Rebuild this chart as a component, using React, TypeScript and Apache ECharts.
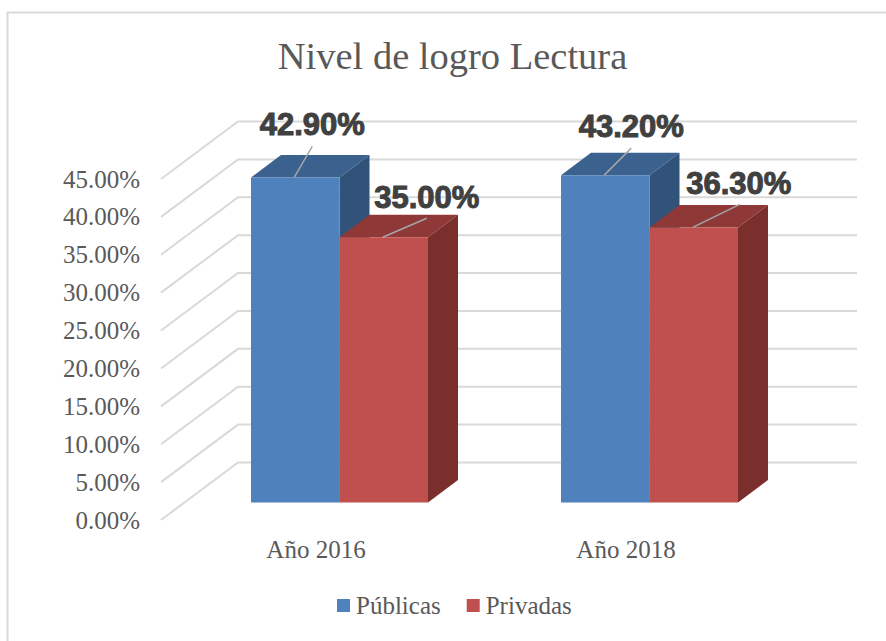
import React, { useEffect, useRef } from "react";
import * as echarts from "echarts";

const categories = ["Año 2016", "Año 2018"];
const yTicks = [0, 5, 10, 15, 20, 25, 30, 35, 40, 45];
const publicas = [42.9, 43.2];
const privadas = [35.0, 36.3];

const serif = "'Liberation Serif', serif";
const TEXT = "#595959";
const BAR_W = 88.5;
const BAR_DX = 23.5;
const BAR_DY = 17.5;
const D3_X = 30;
const D3_Y = 22.5;
const WALL_X = 77;
const WALL_Y = 57.5;

// label placement relative to the bar's front top-centre: [leaderStartDx, leaderEndDx, leaderEndDy, labelDx, labelDy]
const pubLabelPos = [
  [-1, 17, -31, 17, -53],
  [-1, 26, -27, 26, -49],
];
const privLabelPos = [
  [-1, 43, -19, 43, -40],
  [-1, 46, -23, 45, -44],
];

function makeBars(name: string, values: number[], side: -1 | 0, colors: string[], pos: number[][]) {
  return {
    type: "custom",
    name,
    itemStyle: { color: colors[0] },
    data: values.map((v, i) => [i, v]),
    z: 5,
    renderItem: (_p: any, api: any) => {
      const i = api.value(0);
      const v = api.value(1);
      const top = api.coord([i, v]);
      const base = api.coord([i, 0]);
      const x0 = top[0] + BAR_DX + (side === -1 ? -BAR_W : 0);
      const x1 = x0 + BAR_W;
      const yT = top[1] - BAR_DY;
      const yB = base[1] - BAR_DY;
      const cx = (x0 + x1) / 2;
      const [ls, lx, ly, tx, ty] = pos[i];
      return {
        type: "group",
        children: [
          { type: "polygon", shape: { points: [[x0, yT], [x0 + D3_X, yT - D3_Y], [x1 + D3_X, yT - D3_Y], [x1, yT]] }, style: { fill: colors[1] } },
          { type: "polygon", shape: { points: [[x1, yT], [x1 + D3_X, yT - D3_Y], [x1 + D3_X, yB - D3_Y], [x1, yB]] }, style: { fill: colors[2] } },
          { type: "rect", shape: { x: x0, y: yT, width: BAR_W, height: yB - yT }, style: { fill: colors[0] } },
          { type: "line", shape: { x1: cx + ls, y1: yT, x2: cx + lx, y2: yT + ly }, style: { stroke: "#a6a6a6", lineWidth: 1.5 } },
          {
            type: "text",
            x: cx + tx,
            y: yT + ty,
            style: {
              text: v.toFixed(2) + "%",
              font: "bold 31px 'Liberation Sans', sans-serif",
              fill: "#404040",
              stroke: "#404040",
              lineWidth: 1,
              align: "center",
              verticalAlign: "middle",
            },
          },
        ],
      };
    },
  };
}

export default function App() {
  const ref = useRef<HTMLDivElement>(null);
  useEffect(() => {
    document.body.style.margin = "0";
    const chart = echarts.init(ref.current!, null, { renderer: "svg" });
    chart.setOption({
      animation: false,
      backgroundColor: "#ffffff",
      title: {
        text: "Nivel de logro Lectura",
        left: 447.5,
        top: 31,
        textAlign: "center",
        textStyle: { fontFamily: serif, fontSize: 38.5, fontWeight: "normal", color: TEXT },
      },
      legend: {
        data: ["Públicas", "Privadas"],
        left: 337,
        top: 593,
        padding: 0,
        icon: "rect",
        itemWidth: 13,
        itemHeight: 13,
        itemGap: 26,
        textStyle: { fontFamily: serif, fontSize: 25, color: TEXT, padding: [0, 0, 0, 1] },
      },
      grid: { left: 161, top: 179, width: 620, height: 341 },
      xAxis: {
        type: "category",
        data: categories,
        axisLine: { show: false },
        axisTick: { show: false },
        axisLabel: { fontFamily: serif, fontSize: 25, color: TEXT, margin: 17 },
      },
      yAxis: {
        type: "value",
        min: 0,
        max: 45,
        interval: 5,
        splitLine: { show: false },
        axisLine: { show: false },
        axisTick: { show: false },
        axisLabel: {
          fontFamily: serif,
          fontSize: 25,
          color: TEXT,
          margin: 21,
          verticalAlign: "middle",
          padding: [0, 0, 2, 0],
          formatter: (v: number) => v.toFixed(2) + "%",
        },
      },
      graphic: [
        { type: "polyline", shape: { points: [[7.5, 641], [7.5, 12.5], [886, 12.5]] }, style: { stroke: "#d9d9d9", lineWidth: 2, fill: "none" }, silent: true },
      ],
      series: [
        {
          type: "custom",
          name: "walls",
          silent: true,
          z: 1,
          data: yTicks.map((v) => [0, v]),
          renderItem: (p: any, api: any) => {
            const y = api.coord([0, api.value(1)])[1];
            const cs = p.coordSys;
            return {
              type: "polyline",
              shape: { points: [[cs.x, y], [cs.x + WALL_X, y - WALL_Y], [cs.x + cs.width + WALL_X - 1, y - WALL_Y]] },
              style: { stroke: "#d9d9d9", lineWidth: 2, fill: "none" },
            };
          },
        },
        makeBars("Públicas", publicas, -1, ["#4f81bd", "#3b618f", "#325379"], pubLabelPos),
        makeBars("Privadas", privadas, 0, ["#c0504d", "#8e3937", "#7a2f2d"], privLabelPos),
      ],
    });
    return () => chart.dispose();
  }, []);
  return <div ref={ref} style={{ width: 886, height: 641 }} />;
}
